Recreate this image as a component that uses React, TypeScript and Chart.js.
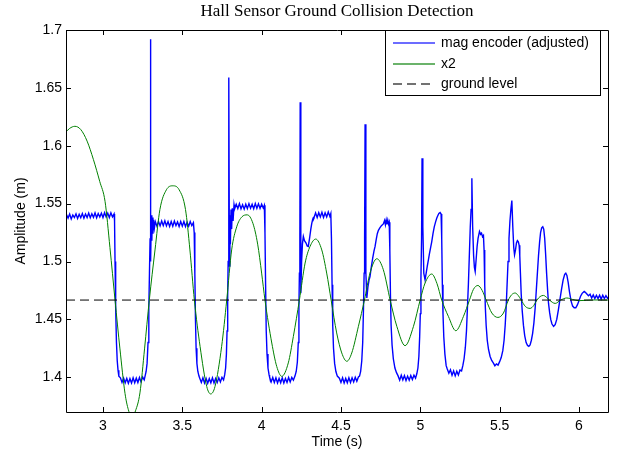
import React, { useEffect, useRef } from "react";
import { Chart, registerables } from "chart.js";

Chart.register(...registerables);

const X_MIN = 2.767;
const X_MAX = 6.183;
const Y_MIN = 1.37;
const Y_MAX = 1.7;
const xTicks = [3, 3.5, 4, 4.5, 5, 5.5, 6];
const yTicks = [1.4, 1.45, 1.5, 1.55, 1.6, 1.65, 1.7];
const groundLevel = 1.4667;

const chartTitle = "Hall Sensor Ground Collision Detection";
const xTitle = "Time (s)";
const yTitle = "Amplitude (m)";
const seriesNames = ["mag encoder (adjusted)", "x2", "ground level"];
const seriesColors = ["#0000ff", "#008000", "#000000"];
const legendColors = ["#3b3bff", "#3a9a3a", "#444444"];

// mag encoder (adjusted): [time, amplitude]
const magEncoder: [number, number][] = [
  [2.76, 1.537], [2.77, 1.5405], [2.78, 1.5375], [2.79, 1.541], [2.8, 1.5368], [2.81, 1.5402], [2.82, 1.538], [2.83, 1.5412],
  [2.84, 1.5372], [2.85, 1.5408], [2.86, 1.5378], [2.87, 1.5415], [2.88, 1.5375], [2.89, 1.541], [2.9, 1.538], [2.91, 1.5418],
  [2.92, 1.5378], [2.93, 1.5412], [2.94, 1.5382], [2.95, 1.542], [2.96, 1.5378], [2.97, 1.5415], [2.98, 1.5385], [2.99, 1.5418],
  [3.0, 1.538], [3.01, 1.5422], [3.02, 1.5385], [3.03, 1.5418], [3.04, 1.538], [3.05, 1.542], [3.06, 1.5385], [3.07, 1.541],
  [3.073, 1.535], [3.076, 1.5], [3.08, 1.46], [3.085, 1.43], [3.09, 1.414], [3.095, 1.406], [3.1, 1.401],
  [3.11, 1.3995], [3.12, 1.3955], [3.13, 1.3992], [3.14, 1.3952], [3.15, 1.399], [3.16, 1.3948], [3.17, 1.3988], [3.18, 1.395],
  [3.19, 1.3995], [3.2, 1.3952], [3.21, 1.3992], [3.22, 1.3955], [3.23, 1.3998], [3.24, 1.396], [3.25, 1.4002], [3.26, 1.3978],
  [3.266, 1.4015], [3.272, 1.405], [3.278, 1.412], [3.284, 1.43], [3.289, 1.46], [3.293, 1.49], [3.297, 1.52], [3.299, 1.535],
  [3.3, 1.692], [3.302, 1.5], [3.305, 1.54], [3.308, 1.518], [3.311, 1.538], [3.315, 1.524], [3.319, 1.536], [3.324, 1.529], [3.33, 1.5345],
  [3.34, 1.5305], [3.35, 1.5345], [3.36, 1.5308], [3.37, 1.535], [3.38, 1.531], [3.39, 1.5352], [3.4, 1.5308], [3.41, 1.5345],
  [3.42, 1.5302], [3.43, 1.5345], [3.44, 1.5305], [3.45, 1.535], [3.46, 1.531], [3.47, 1.5342], [3.48, 1.5302], [3.49, 1.5345],
  [3.5, 1.5305], [3.51, 1.5345], [3.52, 1.5302], [3.53, 1.534], [3.54, 1.5305], [3.55, 1.5345], [3.56, 1.531], [3.57, 1.5335],
  [3.575, 1.525], [3.579, 1.49], [3.583, 1.45], [3.587, 1.425], [3.592, 1.412], [3.598, 1.405], [3.605, 1.401],
  [3.61, 1.3992], [3.62, 1.3955], [3.63, 1.3995], [3.64, 1.395], [3.65, 1.399], [3.66, 1.3948], [3.67, 1.3988], [3.68, 1.3952],
  [3.69, 1.3995], [3.7, 1.395], [3.71, 1.399], [3.72, 1.3955], [3.73, 1.3995], [3.74, 1.396], [3.75, 1.4], [3.76, 1.3978],
  [3.767, 1.402], [3.773, 1.408], [3.778, 1.42], [3.782, 1.44], [3.786, 1.47], [3.789, 1.5], [3.792, 1.53],
  [3.794, 1.659], [3.797, 1.496], [3.8, 1.54], [3.803, 1.515], [3.807, 1.545], [3.811, 1.528], [3.815, 1.546], [3.82, 1.535], [3.826, 1.549],
  [3.83, 1.5455], [3.84, 1.5495], [3.85, 1.5458], [3.86, 1.55], [3.87, 1.5455], [3.88, 1.549], [3.89, 1.5452], [3.9, 1.5495],
  [3.91, 1.5458], [3.92, 1.55], [3.93, 1.546], [3.94, 1.5495], [3.95, 1.5455], [3.96, 1.55], [3.97, 1.546], [3.98, 1.5498],
  [3.99, 1.5458], [4.0, 1.5495], [4.01, 1.5462], [4.017, 1.5485],
  [4.021, 1.525], [4.025, 1.48], [4.029, 1.44], [4.034, 1.42], [4.04, 1.408], [4.047, 1.402],
  [4.05, 1.4002], [4.06, 1.396], [4.07, 1.3998], [4.08, 1.3955], [4.09, 1.3995], [4.1, 1.395], [4.11, 1.399], [4.12, 1.3952],
  [4.13, 1.3995], [4.14, 1.395], [4.15, 1.399], [4.16, 1.3955], [4.17, 1.3998], [4.18, 1.396], [4.19, 1.3998], [4.2, 1.3975],
  [4.21, 1.401], [4.218, 1.405], [4.225, 1.413], [4.231, 1.43], [4.235, 1.46], [4.238, 1.49], [4.241, 1.52],
  [4.243, 1.6376], [4.247, 1.4727], [4.252, 1.5], [4.257, 1.515], [4.263, 1.5216], [4.27, 1.518], [4.28, 1.516], [4.287, 1.5135],
  [4.294, 1.513], [4.302, 1.52], [4.31, 1.528], [4.316, 1.533], [4.322, 1.5365], [4.326, 1.538],
  [4.33, 1.5378], [4.34, 1.542], [4.35, 1.538], [4.36, 1.5422], [4.37, 1.5385], [4.38, 1.5425], [4.39, 1.538], [4.4, 1.542],
  [4.41, 1.5385], [4.42, 1.5428], [4.43, 1.539], [4.436, 1.5415],
  [4.44, 1.52], [4.444, 1.48], [4.448, 1.445], [4.453, 1.425], [4.46, 1.412], [4.468, 1.405], [4.477, 1.401],
  [4.49, 1.3992], [4.5, 1.3955], [4.51, 1.3995], [4.52, 1.395], [4.53, 1.399], [4.54, 1.3952], [4.55, 1.3995], [4.56, 1.3955],
  [4.57, 1.3995], [4.58, 1.396], [4.59, 1.4], [4.6, 1.3965], [4.61, 1.4002],
  [4.617, 1.401], [4.624, 1.405], [4.631, 1.414], [4.637, 1.43], [4.642, 1.46], [4.646, 1.49], [4.649, 1.52],
  [4.652, 1.6186], [4.657, 1.49], [4.663, 1.4685], [4.67, 1.478], [4.677, 1.484], [4.683, 1.487], [4.69, 1.494], [4.7, 1.503],
  [4.708, 1.509], [4.715, 1.513], [4.722, 1.519], [4.729, 1.524], [4.736, 1.527], [4.745, 1.529], [4.755, 1.531], [4.767, 1.5325],
  [4.775, 1.5355], [4.78, 1.5318], [4.785, 1.5358], [4.79, 1.532], [4.795, 1.5358], [4.8, 1.5325], [4.804, 1.534],
  [4.808, 1.51], [4.812, 1.47], [4.816, 1.445], [4.822, 1.428], [4.83, 1.416], [4.84, 1.408], [4.85, 1.404],
  [4.86, 1.4012], [4.87, 1.3975], [4.88, 1.4018], [4.89, 1.3978], [4.9, 1.4015], [4.91, 1.3972], [4.92, 1.401], [4.93, 1.3975],
  [4.94, 1.4015], [4.95, 1.398], [4.96, 1.4018], [4.97, 1.3992],
  [4.978, 1.403], [4.985, 1.408], [4.991, 1.418], [4.996, 1.435], [5.0, 1.455], [5.004, 1.485], [5.008, 1.52],
  [5.011, 1.5893], [5.016, 1.53], [5.022, 1.49], [5.03, 1.4842], [5.037, 1.49], [5.044, 1.496], [5.051, 1.5015], [5.058, 1.507],
  [5.065, 1.512], [5.072, 1.517], [5.08, 1.524], [5.088, 1.53], [5.096, 1.534], [5.104, 1.5375], [5.11, 1.5395], [5.117, 1.5415],
  [5.125, 1.5423], [5.131, 1.541],
  [5.135, 1.52], [5.139, 1.48], [5.143, 1.455], [5.148, 1.435], [5.155, 1.42], [5.163, 1.41],
  [5.17, 1.4072], [5.18, 1.4035], [5.19, 1.4065], [5.2, 1.4018], [5.21, 1.4055], [5.22, 1.4012], [5.23, 1.4052], [5.24, 1.402],
  [5.25, 1.4062], [5.26, 1.4055], [5.268, 1.41], [5.276, 1.416], [5.284, 1.426], [5.291, 1.44], [5.297, 1.46], [5.303, 1.48],
  [5.309, 1.505], [5.315, 1.53], [5.32, 1.545], [5.325, 1.572], [5.33, 1.53], [5.336, 1.505], [5.341, 1.495], [5.346, 1.4914],
  [5.352, 1.502], [5.358, 1.513], [5.364, 1.52], [5.373, 1.526], [5.38, 1.5235], [5.386, 1.5245], [5.392, 1.5215], [5.398, 1.5225],
  [5.402, 1.51], [5.406, 1.48], [5.41, 1.46], [5.415, 1.445], [5.422, 1.432], [5.43, 1.424], [5.44, 1.418], [5.45, 1.4145],
  [5.46, 1.4125], [5.47, 1.41], [5.48, 1.4115], [5.49, 1.4105], [5.5, 1.4135], [5.51, 1.417], [5.52, 1.423], [5.528, 1.432],
  [5.535, 1.445], [5.541, 1.46], [5.547, 1.48], [5.553, 1.5], [5.559, 1.52], [5.565, 1.535], [5.571, 1.545], [5.577, 1.5527],
  [5.583, 1.53], [5.589, 1.512], [5.594, 1.5058], [5.6, 1.51], [5.606, 1.516], [5.612, 1.518], [5.618, 1.517], [5.623, 1.514],
  [5.627, 1.505], [5.631, 1.49], [5.636, 1.472], [5.642, 1.458], [5.65, 1.445], [5.658, 1.436], [5.667, 1.43], [5.676, 1.4275],
  [5.684, 1.4267], [5.692, 1.428], [5.7, 1.432], [5.708, 1.438], [5.716, 1.447], [5.724, 1.46], [5.731, 1.475], [5.738, 1.49],
  [5.745, 1.505], [5.752, 1.517], [5.758, 1.525], [5.765, 1.529], [5.772, 1.53], [5.778, 1.528], [5.784, 1.52], [5.79, 1.506],
  [5.796, 1.49], [5.802, 1.476], [5.808, 1.464], [5.815, 1.456], [5.822, 1.45], [5.83, 1.446], [5.84, 1.444], [5.85, 1.4455],
  [5.86, 1.45], [5.87, 1.458], [5.88, 1.467], [5.89, 1.476], [5.9, 1.484], [5.91, 1.489], [5.917, 1.49], [5.924, 1.488],
  [5.932, 1.482], [5.94, 1.474], [5.95, 1.466], [5.96, 1.4615], [5.97, 1.46], [5.98, 1.46], [5.99, 1.4625], [6.0, 1.466],
  [6.01, 1.47], [6.02, 1.4725], [6.033, 1.4742], [6.04, 1.4735], [6.05, 1.472], [6.06, 1.4705], [6.07, 1.4718], [6.08, 1.4685],
  [6.09, 1.4712], [6.1, 1.468], [6.11, 1.4708], [6.12, 1.468], [6.13, 1.4708], [6.14, 1.4675], [6.15, 1.4708], [6.16, 1.468],
  [6.17, 1.4705], [6.18, 1.4682], [6.19, 1.47],
];

// x2: [time, amplitude]
const x2: [number, number][] = [
  [2.76, 1.611], [2.79, 1.615], [2.823, 1.6168], [2.86, 1.614], [2.9, 1.604], [2.94, 1.588], [2.98, 1.569], [3.013, 1.552],
  [3.044, 1.512], [3.076, 1.4667], [3.107, 1.4245], [3.139, 1.386], [3.16, 1.372], [3.183, 1.3655], [3.205, 1.371], [3.233, 1.3865],
  [3.262, 1.4245], [3.292, 1.4667], [3.328, 1.51], [3.359, 1.545], [3.4, 1.562], [3.44, 1.5654], [3.48, 1.562], [3.52, 1.545],
  [3.548, 1.51], [3.576, 1.4667], [3.612, 1.4267], [3.654, 1.392], [3.679, 1.3856], [3.706, 1.392], [3.748, 1.4267], [3.78, 1.4667],
  [3.811, 1.51], [3.843, 1.53], [3.875, 1.5385], [3.91, 1.5403], [3.945, 1.533], [3.975, 1.515], [4.0, 1.49], [4.021, 1.4667],
  [4.064, 1.4296], [4.095, 1.4094], [4.127, 1.4008], [4.168, 1.4124], [4.2, 1.4353], [4.238, 1.4667], [4.274, 1.4987], [4.305, 1.513],
  [4.341, 1.5194], [4.379, 1.51], [4.41, 1.49], [4.438, 1.4667], [4.473, 1.4383], [4.505, 1.421], [4.537, 1.4138], [4.568, 1.421],
  [4.61, 1.444], [4.648, 1.4667], [4.683, 1.49], [4.726, 1.5024], [4.767, 1.4929], [4.81, 1.4667], [4.852, 1.444], [4.904, 1.4273],
  [4.957, 1.444], [4.999, 1.4667], [5.03, 1.4814], [5.072, 1.4892], [5.105, 1.481], [5.135, 1.4667], [5.177, 1.4526], [5.224, 1.4402],
  [5.272, 1.4526], [5.31, 1.4667], [5.335, 1.476], [5.363, 1.4793], [5.39, 1.475], [5.415, 1.4667], [5.451, 1.4555], [5.489, 1.4517],
  [5.524, 1.4555], [5.555, 1.4667], [5.575, 1.4712], [5.598, 1.4728], [5.618, 1.4705], [5.636, 1.4667], [5.662, 1.4612], [5.692, 1.4595],
  [5.715, 1.462], [5.735, 1.4667], [5.755, 1.4697], [5.776, 1.4707], [5.796, 1.469], [5.814, 1.4667], [5.85, 1.4638], [5.885, 1.4667],
  [5.923, 1.4685], [5.96, 1.4672], [6.0, 1.4662], [6.05, 1.4665], [6.1, 1.4668], [6.19, 1.4667],
];

const SANS = '"Liberation Sans", Arial, Helvetica, sans-serif';
const SERIF = '"Liberation Serif", "Times New Roman", serif';

const framePlugin = {
  id: "matlabFrame",
  afterDraw(chart: any) {
    const { ctx, chartArea: a, scales } = chart;
    const xs = scales.x;
    const ys = scales.y;
    ctx.save();
    ctx.strokeStyle = "#000";
    ctx.lineWidth = 1;
    ctx.setLineDash([]);
    ctx.beginPath();
    ctx.rect(Math.round(a.left) + 0.5, Math.round(a.top) + 0.5, Math.round(a.right - a.left), Math.round(a.bottom - a.top));
    ctx.stroke();
    const tl = 5;
    ctx.beginPath();
    for (const v of xTicks) {
      const px = Math.round(xs.getPixelForValue(v)) + 0.5;
      ctx.moveTo(px, a.bottom);
      ctx.lineTo(px, a.bottom - tl);
      ctx.moveTo(px, a.top);
      ctx.lineTo(px, a.top + tl);
    }
    for (const v of yTicks) {
      const py = Math.round(ys.getPixelForValue(v)) + 0.5;
      ctx.moveTo(a.left, py);
      ctx.lineTo(a.left + tl, py);
      ctx.moveTo(a.right, py);
      ctx.lineTo(a.right - tl, py);
    }
    ctx.stroke();

    ctx.fillStyle = "#000";
    ctx.font = `17px ${SERIF}`;
    ctx.textAlign = "center";
    ctx.textBaseline = "middle";
    ctx.fillText(chartTitle, (a.left + a.right) / 2, 12);

    ctx.font = `14px ${SANS}`;
    ctx.fillText(xTitle, (a.left + a.right) / 2, 442);
    ctx.save();
    ctx.translate(21, (a.top + a.bottom) / 2);
    ctx.rotate(-Math.PI / 2);
    ctx.fillText(yTitle, 0, 0);
    ctx.restore();

    // legend box
    const lw = 215;
    const lh = 65;
    const lx = Math.round(a.right) - 8 - lw;
    const ly = Math.round(a.top);
    ctx.fillStyle = "#fff";
    ctx.fillRect(lx, ly, lw, lh);
    ctx.strokeStyle = "#000";
    ctx.lineWidth = 1;
    ctx.strokeRect(lx + 0.5, ly + 0.5, lw, lh);
    const rowY = [ly + 13, ly + 34, ly + 54];
    chart.data.datasets.forEach((ds: any, i: number) => {
      const y = Math.round(rowY[i]);
      ctx.strokeStyle = legendColors[i];
      ctx.lineWidth = 1.5;
      ctx.setLineDash(i === 2 ? [9, 5] : []);
      ctx.beginPath();
      ctx.moveTo(lx + 8, y);
      ctx.lineTo(lx + 50, y);
      ctx.stroke();
      ctx.setLineDash([]);
      ctx.fillStyle = "#000";
      ctx.font = `14px ${SANS}`;
      ctx.textAlign = "left";
      ctx.textBaseline = "middle";
      ctx.fillText(ds.label, lx + 56, y);
    });
    ctx.restore();
  },
};

export default function App() {
  const ref = useRef<HTMLCanvasElement>(null);
  useEffect(() => {
    const canvas = ref.current;
    if (!canvas) return;
    const chart = new Chart(canvas, {
      type: "line",
      data: {
        datasets: [
          {
            label: seriesNames[0],
            data: magEncoder.map(([x, y]) => ({ x, y })),
            borderColor: seriesColors[0],
            borderWidth: 1.4,
            pointRadius: 0,
            tension: 0,
            order: 2,
          } as any,
          {
            label: seriesNames[1],
            data: x2.map(([x, y]) => ({ x, y })),
            borderColor: seriesColors[1],
            borderWidth: 1,
            pointRadius: 0,
            cubicInterpolationMode: "monotone",
            order: 1,
          } as any,
          {
            label: seriesNames[2],
            data: [
              { x: X_MIN, y: groundLevel },
              { x: X_MAX, y: groundLevel },
            ],
            borderColor: seriesColors[2],
            borderWidth: 1,
            borderDash: [9, 5],
            pointRadius: 0,
            order: 0,
          } as any,
        ],
      },
      options: {
        animation: false,
        responsive: false,
        devicePixelRatio: 1,
        events: [],
        layout: { padding: { top: 30, right: 11, left: 0, bottom: 0 } },
        plugins: {
          legend: { display: false },
          tooltip: { enabled: false },
          title: { display: false },
        },
        scales: {
          x: {
            type: "linear",
            min: X_MIN,
            max: X_MAX,
            grid: { display: false, drawTicks: false },
            border: { display: false },
            afterBuildTicks: (s: any) => {
              s.ticks = xTicks.map((v) => ({ value: v }));
            },
            afterFit: (s: any) => {
              s.height = 41;
            },
            ticks: {
              padding: 6,
              color: "#000",
              maxRotation: 0,
              autoSkip: false,
              font: { family: SANS, size: 14 },
              callback: (v: any) => String(v),
            },
          },
          y: {
            type: "linear",
            min: Y_MIN,
            max: Y_MAX,
            grid: { display: false, drawTicks: false },
            border: { display: false },
            afterBuildTicks: (s: any) => {
              s.ticks = yTicks.map((v) => ({ value: v }));
            },
            afterFit: (s: any) => {
              s.width = 66;
            },
            ticks: {
              padding: 4,
              color: "#000",
              autoSkip: false,
              font: { family: SANS, size: 14 },
              callback: (v: any) => String(v),
            },
          },
        },
      } as any,
      plugins: [framePlugin],
    });
    return () => chart.destroy();
  }, []);
  return (
    <div style={{ position: "fixed", left: 0, top: 0, width: 619, height: 453, background: "#fff" }}>
      <canvas ref={ref} width={619} height={453} style={{ display: "block", width: 619, height: 453 }} />
    </div>
  );
}
